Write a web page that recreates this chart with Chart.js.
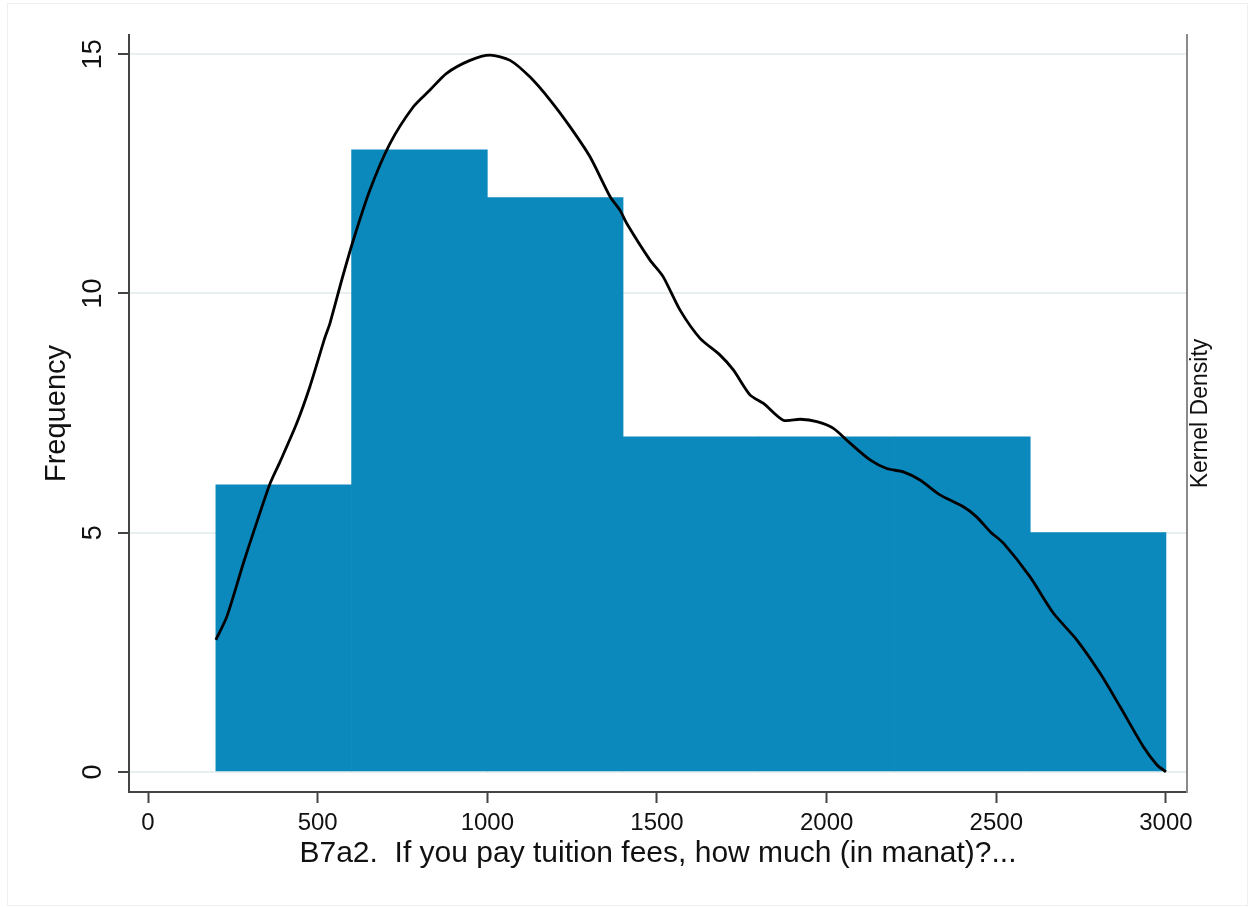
<!DOCTYPE html>
<html>
<head>
<meta charset="utf-8">
<style>
  html, body { margin: 0; padding: 0; background: #ffffff; }
  #wrap { position: relative; width: 1249px; height: 907px; }
</style>
<script src="https://cdn.jsdelivr.net/npm/chart.js@4/dist/chart.umd.min.js"></script>
</head>
<body>
<div id="wrap"><canvas id="c" width="1249" height="907"></canvas></div>
<script>
// ---------- data ----------
const binCenters   = [400, 800, 1200, 1600, 2000, 2400, 2800];   // bins of width 400 from 200 to 3000
const frequencies  = [6, 13, 12, 7, 7, 7, 5];
const xTickValues  = [0, 500, 1000, 1500, 2000, 2500, 3000];
const yTickValues  = [0, 5, 10, 15];
// kernel density curve (in frequency-axis units)
const densityX = [200, 232, 281, 310, 360, 389, 438, 477, 522, 536, 571, 605, 654, 713, 782, 831, 880, 949, 1008,
                  1067, 1126, 1185, 1244, 1303, 1362, 1391, 1411, 1479, 1518, 1568, 1627, 1686, 1725, 1774, 1814,
                  1872, 1922, 1971, 2020, 2069, 2128, 2177, 2226, 2275, 2334, 2403, 2442, 2482, 2521, 2599, 2668,
                  2737, 2806, 2865, 2933, 2973, 3000];
const densityY = [2.76, 3.24, 4.36, 4.99, 6.03, 6.48, 7.28, 8.05, 9.09, 9.37, 10.28, 11.11, 12.16, 13.13, 13.90, 14.25, 14.60, 14.87, 14.98,
                  14.87, 14.52, 14.04, 13.48, 12.85, 12.02, 11.74, 11.46, 10.70, 10.35, 9.65, 9.06, 8.71, 8.40, 7.88, 7.70,
                  7.35, 7.37, 7.32, 7.18, 6.87, 6.52, 6.34, 6.27, 6.10, 5.79, 5.54, 5.33, 5.02, 4.78, 4.08, 3.32,
                  2.76, 2.06, 1.36, 0.53, 0.15, 0.0];
const xTitle  = 'B7a2.  If you pay tuition fees, how much (in manat)?...';
const yTitle  = 'Frequency';
const y2Title = 'Kernel Density';

// ---------- style ----------
const FONT = "'Liberation Sans', Arial, Helvetica, sans-serif";
const BAR_COLOR = '#0b89bd';
const AXIS_COLOR = '#444444';
const TEXT_COLOR = '#111111';

const framePlugin = {
  id: 'frame',
  beforeDraw(chart) {
    const ctx = chart.ctx;
    ctx.save();
    ctx.fillStyle = '#ffffff';
    ctx.fillRect(0, 0, chart.width, chart.height);
    ctx.strokeStyle = '#efefef';
    ctx.lineWidth = 1;
    ctx.strokeRect(7.5, 3.5, chart.width - 9, chart.height - 5);
    ctx.restore();
  }
};

const rightTitlePlugin = {
  id: 'rightTitle',
  afterDraw(chart) {
    const ctx = chart.ctx;
    const s = chart.scales.y2;
    const ca = chart.chartArea;
    ctx.save();
    ctx.translate(s.left + 14, (ca.top + ca.bottom) / 2);
    ctx.rotate(-Math.PI / 2);
    ctx.fillStyle = TEXT_COLOR;
    ctx.font = "23px " + FONT;
    ctx.textAlign = 'center';
    ctx.textBaseline = 'middle';
    ctx.fillText(y2Title, 0, 0);
    ctx.restore();
  }
};

new Chart(document.getElementById('c'), {
  type: 'bar',
  data: {
    datasets: [
      {
        type: 'line',
        label: 'Kernel density',
        data: densityX.map((x, i) => ({ x: x, y: densityY[i] })),
        yAxisID: 'y2',
        borderColor: '#000000',
        borderWidth: 2.8,
        pointRadius: 0,
        tension: 0.25,
        fill: false,
        order: 0
      },
      {
        type: 'bar',
        label: 'Frequency',
        data: binCenters.map((x, i) => ({ x: x, y: frequencies[i] })),
        yAxisID: 'y',
        backgroundColor: BAR_COLOR,
        borderWidth: 0,
        barPercentage: 1.0,
        categoryPercentage: 1.0,
        order: 1
      }
    ]
  },
  options: {
    responsive: false,
    animation: false,
    devicePixelRatio: 1,
    layout: { padding: { top: 35, left: 0, right: 0, bottom: 0 } },
    plugins: { legend: { display: false }, tooltip: { enabled: false } },
    scales: {
      x: {
        type: 'linear',
        position: 'bottom',
        min: -56,
        max: 3062,
        offset: false,
        afterBuildTicks: (s) => { s.ticks = xTickValues.map(v => ({ value: v })); },
        afterFit: (s) => { s.height = 115; },
        grid: { offset: false, drawOnChartArea: false, drawTicks: true, tickLength: 11, tickColor: AXIS_COLOR, tickWidth: 2 },
        border: { display: true, color: AXIS_COLOR, width: 2 },
        ticks: { font: { family: FONT, size: 24 }, color: TEXT_COLOR, padding: 6, minRotation: 0, maxRotation: 0, autoSkip: false,
                 callback: (v) => String(v) },
        title: { display: true, text: xTitle, font: { family: FONT, size: 30 }, color: TEXT_COLOR, padding: { top: 0, bottom: 35 } }
      },
      y: {
        type: 'linear',
        position: 'left',
        min: -0.42,
        max: 15.4,
        afterBuildTicks: (s) => { s.ticks = yTickValues.map(v => ({ value: v })); },
        afterFit: (s) => { s.width = 129; },
        grid: { color: '#e8eff1', lineWidth: 2, drawTicks: true, tickLength: 11, tickColor: AXIS_COLOR, tickWidth: 2 },
        border: { display: true, color: AXIS_COLOR, width: 2 },
        ticks: { font: { family: FONT, size: 27 }, color: TEXT_COLOR, padding: 9, minRotation: 90, maxRotation: 90, crossAlign: 'center',
                 callback: (v) => String(v) },
        title: { display: true, text: yTitle, font: { family: FONT, size: 29 }, color: TEXT_COLOR, padding: { top: 40, bottom: 0 } }
      },
      y2: {
        type: 'linear',
        position: 'right',
        min: -0.42,
        max: 15.4,
        afterFit: (s) => { s.width = 62; },
        grid: { drawOnChartArea: false, drawTicks: false },
        border: { display: true, color: '#8a8a8a', width: 2 },
        ticks: { display: false }
      }
    }
  },
  plugins: [framePlugin, rightTitlePlugin]
});
</script>
</body>
</html>
